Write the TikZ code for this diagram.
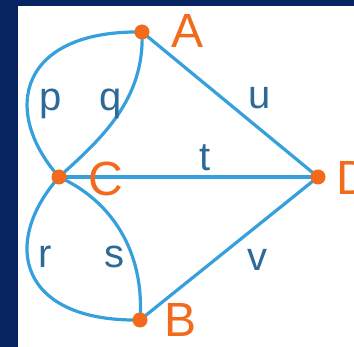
\documentclass[tikz,border=0pt]{standalone}
\usepackage{fontspec}
\setmainfont{Liberation Sans}
\definecolor{navy}{HTML}{082460}
\definecolor{linkblue}{HTML}{36A0DC}
\definecolor{dotorange}{HTML}{F26A1B}
\definecolor{tagblue}{HTML}{2E6A98}
\begin{document}
\begin{tikzpicture}[
  x=1pt, y=1pt,
  dot/.style={circle,fill=dotorange,inner sep=0pt,minimum size=15pt},
  link/.style={draw=linkblue,line width=3.2pt},
  vname/.style={text=dotorange,anchor=base,inner sep=0pt,
    font=\fontsize{48}{48}\selectfont},
  tag/.style={text=tagblue,anchor=base,inner sep=0pt,
    font=\fontsize{40}{40}\selectfont}]
\useasboundingbox (0,0) rectangle (354,-347);
\fill[navy] (0,0) rectangle (354,-347);
\fill[white] (18,-6) rectangle (354,-347);
% vertices
\coordinate (A) at (142,-32);
\coordinate (C) at (59,-177);
\coordinate (D) at (318,-177);
\coordinate (B) at (140,-320);
% edges
\draw[link] (C) .. controls (0,-110) and (20,-30) .. (A);
\draw[link] (C) .. controls (100,-140) and (145,-100) .. (A);
\draw[link] (C) .. controls (0,-244) and (20,-322) .. (B);
\draw[link] (C) .. controls (110,-200) and (145,-250) .. (B);
\draw[link] (A) -- (D);
\draw[link] (C) -- (D);
\draw[link] (B) -- (D);
\foreach \v in {A,B,C,D}
  \node[dot] (dot\v) at (\v) {};
% vertex names
\node[vname] (nameA) at (188,-48) {A};
\node[vname] (nameC) at (106,-196) {C};
\node[vname,anchor=base west] (nameD) at (336,-195) {D};
\node[vname] (nameB) at (181,-337) {B};
% edge names
\node[tag] (tagp) at (51,-111) {p};
\node[tag] (tagq) at (111,-111) {q};
\node[tag] (tagu) at (260,-109) {u};
\node[tag] (tagt) at (205,-171) {t};
\node[tag] (tagr) at (45,-268) {r};
\node[tag] (tags) at (114,-268) {s};
\node[tag] (tagv) at (257,-271) {v};
\end{tikzpicture}
\end{document}
